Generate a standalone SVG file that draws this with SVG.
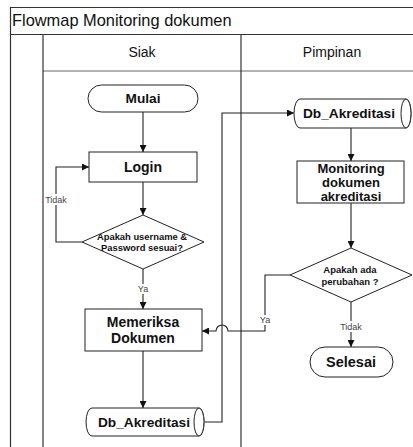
<svg xmlns="http://www.w3.org/2000/svg" width="413" height="447" viewBox="0 0 413 447">
<defs>
<marker id="ah" viewBox="0 0 10 10" refX="10" refY="5" markerWidth="7" markerHeight="7" markerUnits="userSpaceOnUse" orient="auto">
<path d="M0,0 L10,5 L0,10 Z" fill="#111"/>
</marker>
<style>
.frame{fill:none;stroke:#333;stroke-width:1.2}
.shape{fill:#fff;stroke:#222;stroke-width:1}
.conn{fill:none;stroke:#222;stroke-width:1.1}
.t{font-family:"Liberation Sans",Arial,sans-serif;fill:#111;text-anchor:middle}
.b{font-weight:bold}
.lbl{font-family:"Liberation Sans",Arial,sans-serif;font-size:9px;fill:#444;text-anchor:middle}
.lblbg{fill:#fff}
</style>
</defs>
<rect width="413" height="447" fill="#fff"/>
<g id="swimlane">
<path class="frame" d="M10.5,448 V7.5 H414"/>
<line class="frame" x1="10" y1="34.5" x2="414" y2="34.5"/>
<line x1="43" y1="71" x2="414" y2="71" stroke="#666" stroke-width="1.2"/>
<line class="frame" x1="43" y1="34.5" x2="43" y2="448"/>
<line class="frame" x1="241" y1="34.5" x2="241" y2="448"/>
<text x="12" y="26" font-family="Liberation Sans,Arial,sans-serif" font-size="16.4" fill="#111">Flowmap Monitoring dokumen</text>
<text class="t" x="142" y="57" font-size="14">Siak</text>
<text class="t" x="332" y="57" font-size="14">Pimpinan</text>
</g>
<g id="connectors">
<line class="conn" x1="143" y1="112" x2="143" y2="152" marker-end="url(#ah)"/>
<line class="conn" x1="143" y1="182" x2="143" y2="215" marker-end="url(#ah)"/>
<polyline class="conn" points="82,242 56,242 56,167 89,167" marker-end="url(#ah)"/>
<line class="conn" x1="143" y1="269" x2="143" y2="309" marker-end="url(#ah)"/>
<line class="conn" x1="143" y1="351" x2="143" y2="408" marker-end="url(#ah)"/>
<polyline class="conn" points="205,422 222,422 222,113 294,113" marker-end="url(#ah)"/>
<line class="conn" x1="351" y1="128" x2="351" y2="161" marker-end="url(#ah)"/>
<line class="conn" x1="351" y1="203" x2="351" y2="248" marker-end="url(#ah)"/>
<path class="conn" d="M290,275 H265 V331 H228 A6,6 0 0 0 216,331 H202" marker-end="url(#ah)"/>
<line class="conn" x1="351" y1="302" x2="351" y2="347" marker-end="url(#ah)"/>
<rect class="lblbg" x="45" y="194" width="22" height="11"/>
<text class="lbl" x="56" y="203">Tidak</text>
<rect class="lblbg" x="137" y="284" width="12" height="10"/>
<text class="lbl" x="143" y="292">Ya</text>
<rect class="lblbg" x="259" y="315" width="12" height="10"/>
<text class="lbl" x="265" y="323">Ya</text>
<rect class="lblbg" x="340" y="321" width="22" height="11"/>
<text class="lbl" x="351" y="330">Tidak</text>
</g>
<g id="mulai">
<rect class="shape" x="88" y="85" width="110" height="27" rx="13.5"/>
<text class="t b" x="143" y="103" font-size="13.7">Mulai</text>
</g>
<g id="login">
<rect class="shape" x="89" y="152" width="108" height="30"/>
<text class="t b" x="143" y="172" font-size="14">Login</text>
</g>
<g id="cek-login">
<polygon class="shape" points="143,215 204,242 143,269 82,242"/>
<text class="t b" x="142" y="240" font-size="9.4">Apakah username &amp;</text>
<text class="t b" x="142" y="251" font-size="9.4">Password sesuai?</text>
</g>
<g id="memeriksa">
<rect class="shape" x="85" y="309" width="117" height="42"/>
<text class="t b" x="143" y="327" font-size="14">Memeriksa</text>
<text class="t b" x="143" y="343" font-size="14">Dokumen</text>
</g>
<g id="db-siak">
<path class="shape" d="M92,408 H199 A5,14 0 0 1 199,436 H92 A6,14 0 0 1 92,408 Z"/>
<ellipse class="shape" cx="199" cy="422" rx="5" ry="14"/>
<text class="t b" x="144" y="427" font-size="13.7">Db_Akreditasi</text>
</g>
<g id="db-pimpinan">
<path class="shape" d="M300,99 H406 A5,14.5 0 0 1 406,128 H300 A6,14.5 0 0 1 300,99 Z"/>
<ellipse class="shape" cx="406" cy="113.5" rx="5" ry="14.5"/>
<text class="t b" x="349" y="118" font-size="13.7">Db_Akreditasi</text>
</g>
<g id="monitoring">
<rect class="shape" x="297" y="161" width="107" height="42"/>
<text class="t b" x="351" y="173" font-size="13">Monitoring</text>
<text class="t b" x="351" y="187" font-size="13">dokumen</text>
<text class="t b" x="351" y="201" font-size="13">akreditasi</text>
</g>
<g id="cek-perubahan">
<polygon class="shape" points="351,248 412,275 351,302 290,275"/>
<text class="t b" x="350" y="273" font-size="9.5">Apakah ada</text>
<text class="t b" x="350" y="285" font-size="9.5">perubahan ?</text>
</g>
<g id="selesai">
<rect class="shape" x="310" y="347" width="83" height="30" rx="15"/>
<text class="t b" x="351" y="367" font-size="14.5">Selesai</text>
</g>
</svg>
